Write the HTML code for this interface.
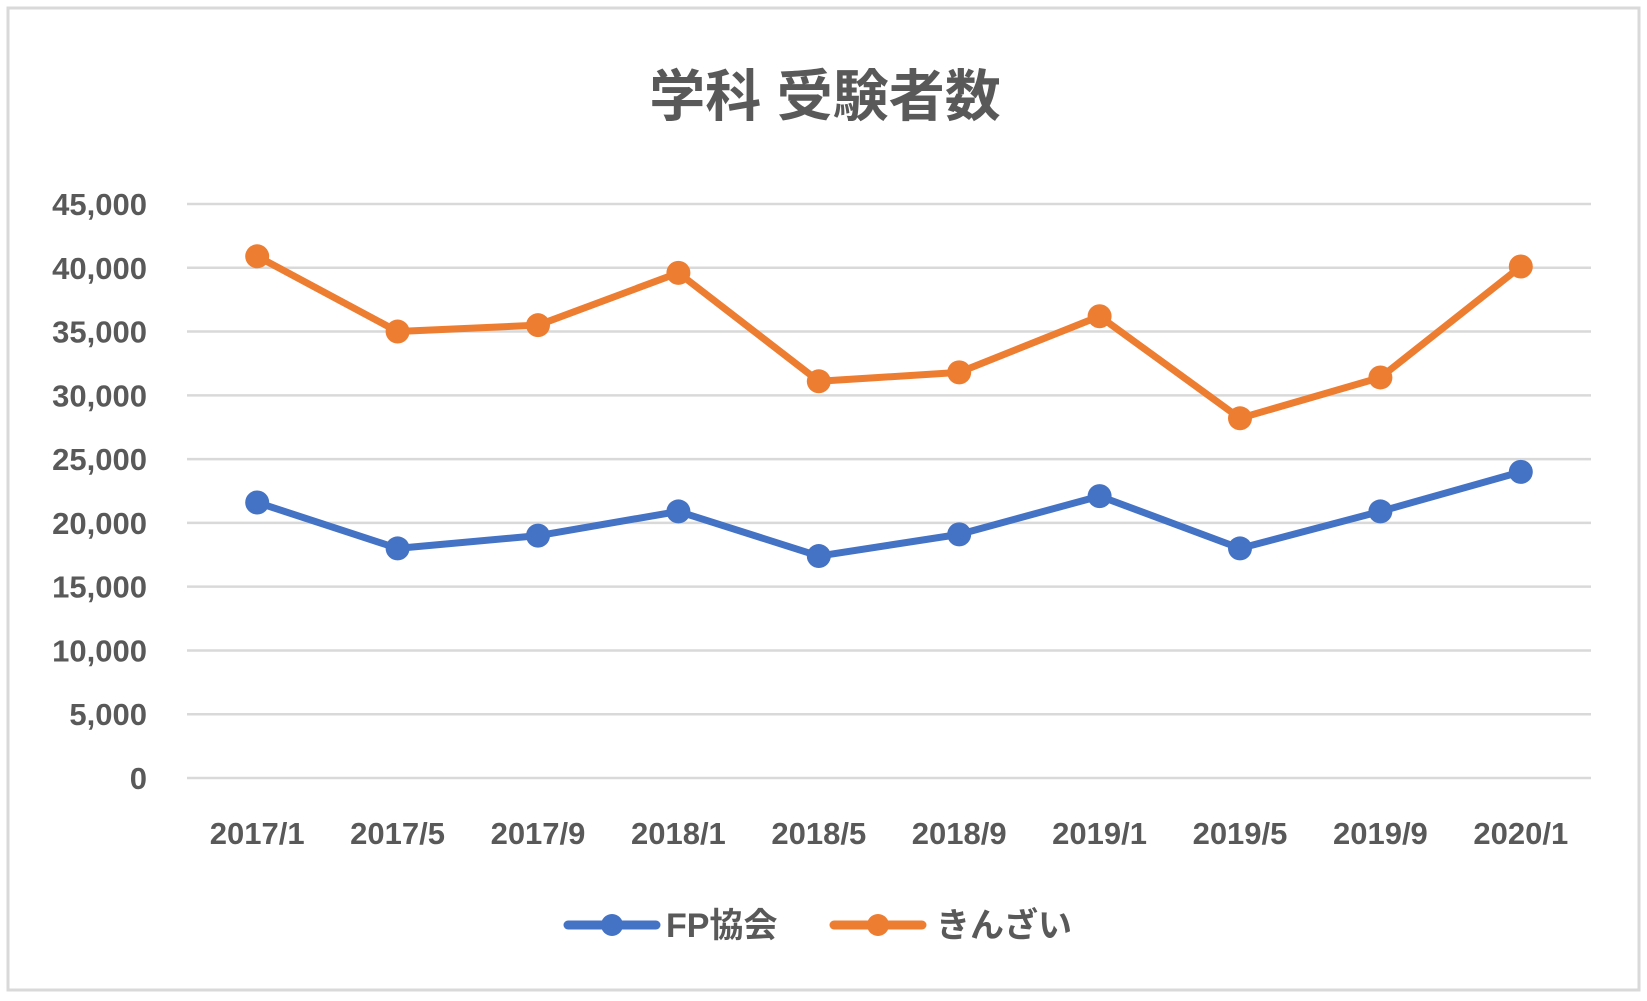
<!DOCTYPE html>
<html><head><meta charset="utf-8"><style>
html,body{margin:0;padding:0;background:#fff;}
svg text{font-family:"Liberation Sans","Noto Sans CJK JP",sans-serif;font-weight:bold;fill:#595959;}
</style></head><body>
<svg id="chart" width="1647" height="996" xmlns="http://www.w3.org/2000/svg">
<rect x="8" y="8" width="1631" height="982" fill="#fff" stroke="#d9d9d9" stroke-width="3"/>
<text x="825" y="116" text-anchor="middle" font-size="56">学科 受験者数</text>
<g id="grid"></g><g id="ylabels"></g><g id="xlabels"></g><g id="series"></g>
<g>
<g>
<line x1="568" y1="925" x2="656" y2="925" stroke="#4472c4" stroke-width="9" stroke-linecap="round"/>
<circle cx="612" cy="925" r="11" fill="#4472c4"/>
<text x="666" y="937" font-size="34">FP協会</text></g>
<g>
<line x1="834" y1="925" x2="922" y2="925" stroke="#ed7d31" stroke-width="9" stroke-linecap="round"/>
<circle cx="878" cy="925" r="11" fill="#ed7d31"/>
<text x="936" y="937" font-size="34">きんざい</text></g>
</g>
</svg>
<script>
const categories=["2017/1","2017/5","2017/9","2018/1","2018/5","2018/9","2019/1","2019/5","2019/9","2020/1"];
const fpValues=[21600,18000,19000,20900,17400,19100,22100,18000,20900,24000];
const kinzaiValues=[40900,35000,35500,39600,31100,31800,36200,28200,31400,40100];
const yTicks=[0,5000,10000,15000,20000,25000,30000,35000,40000,45000];
const NS="http://www.w3.org/2000/svg";
const L=187,R=1591,T=204,B=778,YMAX=45000;
const band=(R-L)/categories.length;
function x(i){return L+band*(i+0.5);}
function y(v){return B-(v/YMAX)*(B-T);}
function mk(tag,attrs,parent){const e=document.createElementNS(NS,tag);for(const k in attrs)e.setAttribute(k,attrs[k]);parent.appendChild(e);return e;}
const grid=document.getElementById('grid'),yl=document.getElementById('ylabels'),xl=document.getElementById('xlabels'),ser=document.getElementById('series');
yTicks.forEach(t=>{
 const g=mk('line',{x1:L,x2:R,y1:y(t),y2:y(t),stroke:'#d9d9d9','stroke-width':2.5},grid);
 
 
 const tx=mk('text',{x:147,y:y(t)+11,'text-anchor':'end','font-size':31},yl);
 tx.textContent=t.toLocaleString('en-US');
 
 
});
categories.forEach((c,i)=>{
 const tx=mk('text',{x:x(i),y:844,'text-anchor':'middle','font-size':31},xl);
 tx.textContent=c;
 
 
});
function drawSeries(vals,color,name){
 const g=mk('g',{},ser);
 
 
 const p=mk('polyline',{points:vals.map((v,i)=>x(i)+','+y(v)).join(' '),fill:'none',stroke:color,'stroke-width':7,'stroke-linejoin':'round','stroke-linecap':'round'},g);
 
 
 vals.forEach((v,i)=>{
  const c=mk('circle',{cx:x(i),cy:y(v),r:12,fill:color},g);
  
  
 });
}
drawSeries(fpValues,'#4472c4','fp');
drawSeries(kinzaiValues,'#ed7d31','kinzai');
</script>
</body></html>
